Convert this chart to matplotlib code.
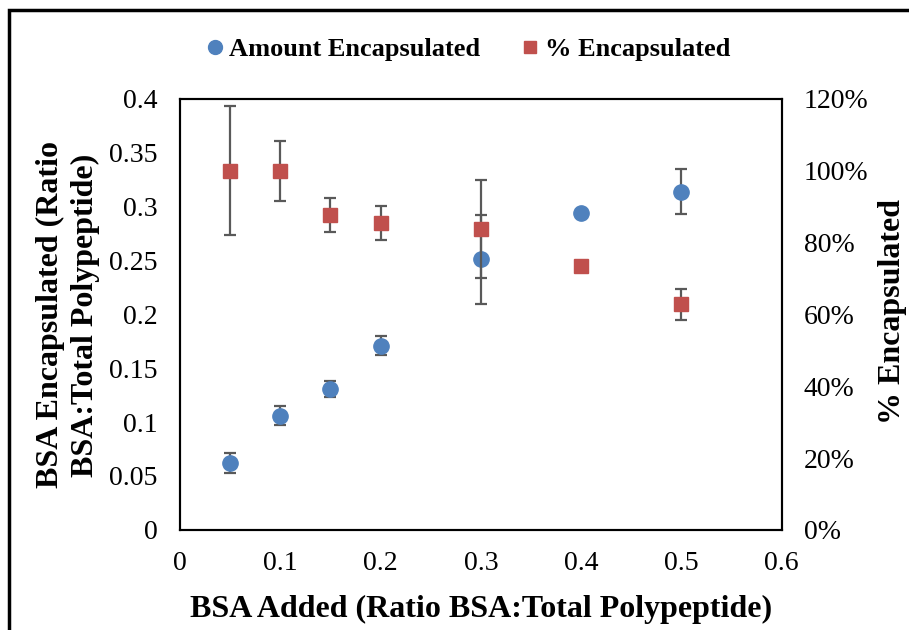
import numpy as np
import matplotlib.pyplot as plt
from matplotlib.patches import Rectangle
from matplotlib.ticker import FuncFormatter

plt.rcParams['font.family'] = ['Liberation Serif', 'DejaVu Serif']

# BSA added (ratio BSA : total polypeptide)
bsa_added = [0.05, 0.1, 0.15, 0.2, 0.3, 0.4, 0.5]

# amount encapsulated (ratio) and its error
amount_enc = [0.062, 0.106, 0.131, 0.171, 0.251, 0.294, 0.314]
amount_err = [0.009, 0.0085, 0.0075, 0.009, 0.041, 0.0, 0.021]

# percent encapsulated and its error
pct_enc = [100.0, 100.0, 87.6, 85.4, 83.7, 73.4, 62.8]
pct_err = [18.0, 8.4, 4.7, 4.8, 13.7, 0.0, 4.3]

blue = '#4F81BD'
red = '#C0504D'
err_col = '#595959'

fig = plt.figure(figsize=(9.09, 6.3), dpi=100)
ax = fig.add_axes([0.198, 0.159, 0.662, 0.684])
ax2 = ax.twinx()

ax.errorbar(bsa_added, amount_enc, yerr=amount_err, fmt='o', color=blue,
            markersize=11, ecolor=err_col, elinewidth=1.6, capsize=4.5,
            capthick=1.6, label='Amount Encapsulated', zorder=3)
ax2.errorbar(bsa_added, pct_enc, yerr=pct_err, fmt='s', color=red,
             markersize=10.5, ecolor=err_col, elinewidth=1.6, capsize=4.5,
             capthick=1.6, label='% Encapsulated', zorder=3)

ax.set_xlim(0, 0.6)
ax.set_ylim(0, 0.4)
ax2.set_ylim(0, 120)
ax.set_xticks(np.arange(0, 0.61, 0.1))
ax.set_yticks(np.arange(0, 0.41, 0.05))
ax2.set_yticks(np.arange(0, 121, 20))
ax.xaxis.set_major_formatter(FuncFormatter(lambda v, p: f'{v:g}' if abs(v) > 1e-9 else '0'))
ax.yaxis.set_major_formatter(FuncFormatter(lambda v, p: f'{v:g}' if abs(v) > 1e-9 else '0'))
ax2.yaxis.set_major_formatter(FuncFormatter(lambda v, p: f'{v:.0f}%'))

for a in (ax, ax2):
    a.tick_params(length=0, labelsize=20, pad=16)
    for s in a.spines.values():
        s.set_linewidth(1.5)
ax.tick_params(axis='x', pad=15)

ax.set_xlabel('BSA Added (Ratio BSA:Total Polypeptide)', fontsize=23,
              fontweight='bold', labelpad=14)
fig.text(0.0748, 0.5, 'BSA Encapsulated (Ratio\nBSA:Total Polypeptide)',
         rotation=90, ha='center', va='center', fontsize=23,
         fontweight='bold', linespacing=1.27, multialignment='center')
fig.text(0.982, 0.505, '% Encapsulated', rotation=90, ha='center',
         va='center', fontsize=23, fontweight='bold')

h1, l1 = ax.get_legend_handles_labels()
h2, l2 = ax2.get_legend_handles_labels()
leg_handles = [plt.Line2D([], [], marker='o', ls='', color=blue, markersize=10),
               plt.Line2D([], [], marker='s', ls='', color=red, markersize=9)]
fig.legend(leg_handles, l1 + l2, loc='center', bbox_to_anchor=(0.514, 0.922),
           ncol=2, frameon=False, handlelength=0.8, handletextpad=0.15,
           columnspacing=1.5, prop={'size': 19, 'weight': 'bold'})

# outer chart frame
fig.patches.append(Rectangle((0.0099, -0.05), 1.2, 1.034, transform=fig.transFigure,
                             fill=False, edgecolor='black', linewidth=2.5))

fig.savefig('out.png', dpi=100)
